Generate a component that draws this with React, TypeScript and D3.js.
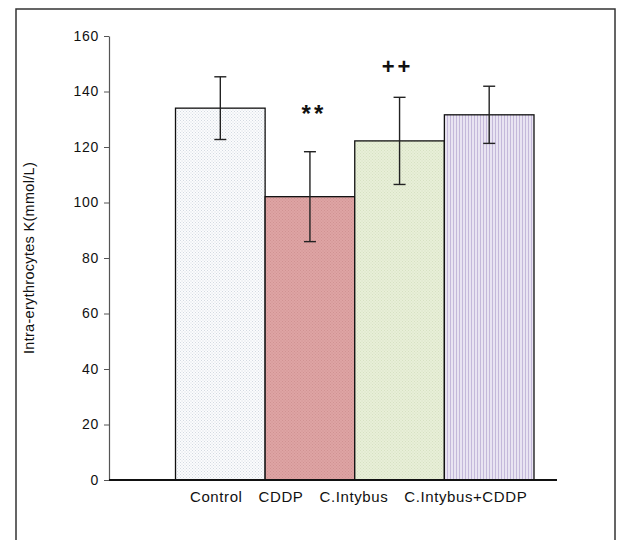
import * as d3 from 'd3';
import { useEffect, useRef } from 'react';

const groups = ['Control', 'CDDP', 'C.Intybus', 'C.Intybus+CDDP'];
const means = [134, 102.1, 122.2, 131.6];
const errors = [11.3, 16.2, 15.7, 10.3];
const marks = ['', '**', '++', ''];
const yTicks = [0, 20, 40, 60, 80, 100, 120, 140, 160];

export default function App() {
    const svgRef = useRef<SVGSVGElement>(null);
    const width = 617;
    const height = 540;

    useEffect(() => {
        const svg = d3.select(svgRef.current);
        svg.selectAll('*').remove();

        const font = '"Liberation Sans", Arial, sans-serif';
        const xScale = d3.scaleBand().domain(groups).range([175.5, 534]).padding(0);
        const yScale = d3.scaleLinear().domain([0, 160]).range([480, 36]);

        const defs = svg.append('defs');
        const dotPattern = (id: string, bg: string, dot: string) => {
            const p = defs.append('pattern').attr('id', id).attr('patternUnits', 'userSpaceOnUse')
                .attr('width', 3).attr('height', 3);
            p.append('rect').attr('width', 3).attr('height', 3).attr('fill', bg);
            p.append('rect').attr('x', 0).attr('y', 0).attr('width', 1).attr('height', 1).attr('fill', dot);
            p.append('rect').attr('x', 1.5).attr('y', 1.5).attr('width', 1).attr('height', 1).attr('fill', dot);
        };
        dotPattern('pat0', '#fbfcfd', '#d4dae2');
        dotPattern('pat1', '#dea4a4', '#d09292');
        dotPattern('pat2', '#e8efd8', '#d6e1c2');
        const stripes = defs.append('pattern').attr('id', 'pat3').attr('patternUnits', 'userSpaceOnUse')
            .attr('width', 3).attr('height', 3);
        stripes.append('rect').attr('width', 3).attr('height', 3).attr('fill', '#e9e4f2');
        stripes.append('rect').attr('width', 1).attr('height', 3).attr('fill', '#c4b8da');

        // outer frame
        svg.append('rect')
            .attr('x', 16).attr('y', 9).attr('width', 599).attr('height', 540)
            .attr('fill', 'white').attr('stroke', '#333').attr('stroke-width', 1.5);

        // bars
        svg.selectAll('.bar')
            .data(groups)
            .enter()
            .append('rect')
            .attr('x', (g) => xScale(g) || 0)
            .attr('y', (_, i) => yScale(means[i]))
            .attr('width', xScale.bandwidth())
            .attr('height', (_, i) => yScale(0) - yScale(means[i]))
            .attr('fill', (_, i) => `url(#pat${i})`)
            .attr('stroke', '#111')
            .attr('stroke-width', 1.3);

        // y axis
        const yAxis = svg.append('g')
            .attr('transform', 'translate(109,0)')
            .call(d3.axisLeft(yScale).tickValues(yTicks).tickSize(5).tickPadding(5).tickSizeOuter(0));
        yAxis.select('.domain').attr('stroke', '#555').attr('stroke-width', 1.2);
        yAxis.selectAll('.tick line').attr('stroke', '#555');
        yAxis.selectAll('text')
            .style('font-family', font)
            .style('font-size', '14px')
            .style('letter-spacing', '0.7px')
            .attr('fill', '#111');

        // x axis baseline
        svg.append('line')
            .attr('x1', 109).attr('x2', 557)
            .attr('y1', yScale(0)).attr('y2', yScale(0))
            .attr('stroke', '#111').attr('stroke-width', 1.8);

        // error bars
        const err = svg.selectAll('.err').data(groups).enter().append('g');
        err.append('line')
            .attr('x1', (g) => (xScale(g) || 0) + xScale.bandwidth() / 2)
            .attr('x2', (g) => (xScale(g) || 0) + xScale.bandwidth() / 2)
            .attr('y1', (_, i) => yScale(means[i] + errors[i]))
            .attr('y2', (_, i) => yScale(means[i] - errors[i]))
            .attr('stroke', '#222').attr('stroke-width', 1.4);
        [1, -1].forEach((s) => {
            err.append('line')
                .attr('x1', (g) => (xScale(g) || 0) + xScale.bandwidth() / 2 - 6)
                .attr('x2', (g) => (xScale(g) || 0) + xScale.bandwidth() / 2 + 6)
                .attr('y1', (_, i) => yScale(means[i] + s * errors[i]))
                .attr('y2', (_, i) => yScale(means[i] + s * errors[i]))
                .attr('stroke', '#222').attr('stroke-width', 1.4);
        });

        // significance marks
        svg.selectAll('.mark')
            .data(groups)
            .enter()
            .append('text')
            .attr('x', (g, i) => (xScale(g) || 0) + xScale.bandwidth() / 2 + (i === 1 ? 4 : -2))
            .attr('y', (_, i) => yScale(means[i] + errors[i]) - (i === 2 ? 23 : 30))
            .attr('text-anchor', 'middle')
            .style('font-family', font)
            .style('font-size', (_, i) => (i === 1 ? '24px' : '22px'))
            .style('font-weight', '600')
            .style('letter-spacing', '3px')
            .attr('fill', '#111')
            .text((_, i) => marks[i]);

        // category labels, written as one row under the bars
        const labelRow = svg.append('text')
            .attr('x', 190)
            .attr('y', 502)
            .style('font-family', font)
            .style('font-size', '15px')
            .style('letter-spacing', '0.6px')
            .attr('fill', '#111');
        groups.forEach((g, i) => {
            labelRow.append('tspan').attr('dx', i === 0 ? 0 : 16).text(g);
        });

        // y axis title
        svg.append('text')
            .attr('transform', 'rotate(-90)')
            .attr('x', -258)
            .attr('y', 34)
            .attr('text-anchor', 'middle')
            .style('font-family', font)
            .style('font-size', '14.5px')
            .style('letter-spacing', '0.3px')
            .attr('fill', '#111')
            .text('Intra-erythrocytes K(mmol/L)');
    }, []);

    return (
        <svg ref={svgRef} width={width} height={height}
            style={{ position: 'absolute', left: 0, top: 0, background: 'white' }}></svg>
    );
}
